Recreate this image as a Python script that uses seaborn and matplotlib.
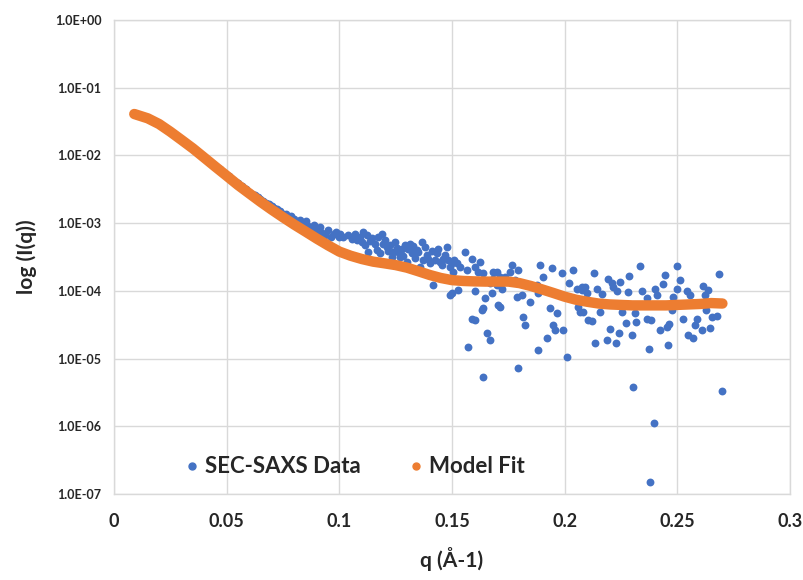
import matplotlib
matplotlib.use('Agg')
import matplotlib.pyplot as plt
from matplotlib.lines import Line2D
import seaborn as sns
import pandas as pd

# SEC-SAXS data points (q in 1/A, intensity)
q_data = [
    # low q, mostly hidden under the fit
    0.0090, 0.0110, 0.0130, 0.0150, 0.0170, 0.0190, 0.0210, 0.0230, 0.0250,
    0.0270, 0.0290, 0.0310, 0.0330, 0.0350, 0.0370, 0.0390, 0.0410, 0.0430,
    0.0450, 0.0470, 0.0490, 0.0510, 0.0530, 0.0550, 0.0570, 0.0585,
    # 0.06 - 0.10
    0.0600, 0.0612, 0.0625, 0.0637, 0.0650, 0.0662, 0.0675, 0.0687, 0.0700,
    0.0712, 0.0725, 0.0737, 0.0750, 0.0762, 0.0775, 0.0787, 0.0800, 0.0812,
    0.0825, 0.0837, 0.0850, 0.0862, 0.0875, 0.0887, 0.0900, 0.0912, 0.0925,
    0.0937, 0.0950, 0.0962, 0.0975, 0.0987, 0.1000,
    # 0.10 - 0.15
    0.1018, 0.1040, 0.1070, 0.1077, 0.1092, 0.1107, 0.1114, 0.1121, 0.1129,
    0.1144, 0.1158, 0.1166, 0.1181, 0.1188, 0.1195, 0.1210, 0.1225, 0.1232,
    0.1240, 0.1255, 0.1269, 0.1292, 0.1299, 0.1314, 0.1321, 0.1343, 0.1358,
    0.1366, 0.1373, 0.1388, 0.1403, 0.1417, 0.1432, 0.1447, 0.1462, 0.1477,
    0.1491, 0.1491, 0.1499, 0.1521,
    0.1003, 0.1055, 0.1100, 0.1136, 0.1173, 0.1203, 0.1218, 0.1247, 0.1262,
    0.1277, 0.1284, 0.1306, 0.1329, 0.1336, 0.1351, 0.1380, 0.1395, 0.1410,
    0.1425, 0.1440, 0.1454, 0.1469, 0.1484,
    # 0.15 - 0.21
    0.1558, 0.1510, 0.1500, 0.1506, 0.1536, 0.1565, 0.1588, 0.1602, 0.1624,
    0.1617, 0.1639, 0.1684, 0.1699, 0.1713, 0.1735, 0.1765, 0.1758, 0.1795,
    0.1780, 0.1787, 0.1810, 0.1817, 0.1824, 0.1846, 0.1876, 0.1891, 0.1906,
    0.1883, 0.1920, 0.1943, 0.1935, 0.1965, 0.1950, 0.1957, 0.1987, 0.1994,
    0.2017, 0.2039, 0.2054, 0.2076, 0.2061, 0.2083, 0.2098, 0.1528, 0.1602,
    0.1647, 0.1676, 0.1699, 0.1721, 0.1684, 0.1669, 0.1639, 0.1632, 0.1588,
    0.1602, 0.1706, 0.1713, 0.1654, 0.1669, 0.1573, 0.1499, 0.1883, 0.1920,
    0.2009, 0.1795, 0.2105, 0.1638,
    # 0.21 - 0.27
    0.2130, 0.2091, 0.2076, 0.2142, 0.2165, 0.2194, 0.2209, 0.2216, 0.2246,
    0.2231, 0.2287, 0.2283, 0.2335, 0.2342, 0.2364, 0.2401, 0.2409, 0.2438,
    0.2446, 0.2498, 0.2512, 0.2498, 0.2482, 0.2542, 0.2557, 0.2616, 0.2638,
    0.2623, 0.2687, 0.2068, 0.2157, 0.2120, 0.2201, 0.2187, 0.2135, 0.2228,
    0.2243, 0.2253, 0.2312, 0.2273, 0.2317, 0.2298, 0.2364, 0.2383, 0.2372,
    0.2423, 0.2456, 0.2465, 0.2460, 0.2475, 0.2527, 0.2549, 0.2571, 0.2586,
    0.2579, 0.2608, 0.2645, 0.2628, 0.2653, 0.2678,
    0.2305, 0.2398, 0.2379, 0.2697,
]
i_data = [
    0.0415, 0.0400, 0.0380, 0.0358, 0.0335, 0.0308, 0.0282, 0.0255, 0.0228,
    0.0203, 0.0180, 0.0160, 0.0142, 0.0128, 0.0113, 0.0100, 0.0089, 0.0078,
    0.0070, 0.0062, 0.0055, 0.0049, 0.0044, 0.0039, 0.0035, 0.0032,
    2.9e-3, 2.7e-3, 2.6e-3, 2.4e-3, 2.3e-3, 2.15e-3, 2.0e-3, 1.9e-3, 1.8e-3,
    1.65e-3, 1.6e-3, 1.5e-3, 1.38e-3, 1.35e-3, 1.22e-3, 1.28e-3, 1.15e-3, 1.05e-3,
    1.12e-3, 9.8e-4, 1.07e-3, 9.0e-4, 8.4e-4, 9.5e-4, 7.8e-4, 8.8e-4, 7.2e-4,
    6.6e-4, 7.9e-4, 6.2e-4, 7.0e-4, 7.5e-4, 6.3e-4,
    6.3e-4, 6.7e-4, 7.0e-4, 5.6e-4, 6.3e-4, 7.5e-4, 4.7e-4, 6.7e-4, 3.8e-4,
    6.0e-4, 5.0e-4, 4.0e-4, 3.6e-4, 7.0e-4, 5.0e-4, 4.5e-4, 4.7e-4, 3.2e-4,
    3.8e-4, 4.3e-4, 3.2e-4, 4.7e-4, 2.7e-4, 5.0e-4, 3.6e-4, 4.0e-4, 2.27e-4,
    5.3e-4, 2.85e-4, 3.4e-4, 2.55e-4, 1.22e-4, 3.6e-4, 2.7e-4, 3.0e-4, 4.5e-4,
    2.27e-4, 8.7e-5, 2.7e-4, 2.55e-4,
    7.0e-4, 5.9e-4, 5.3e-4, 5.5e-4, 6.2e-4, 5.6e-4, 3.9e-4, 5.2e-4, 3.7e-4,
    4.1e-4, 3.3e-4, 4.2e-4, 4.6e-4, 3.1e-4, 3.8e-4, 4.4e-4, 3.0e-4, 3.9e-4,
    2.9e-4, 4.2e-4, 2.4e-4, 3.4e-4, 2.9e-4,
    3.8e-4, 2.85e-4, 2.55e-4, 1.92e-4, 2.27e-4, 2.03e-4, 3.0e-4, 2.27e-4, 2.7e-4,
    1.92e-4, 1.81e-4, 1.92e-4, 1.92e-4, 1.62e-4, 1.62e-4, 2.4e-4, 1.92e-4, 2.03e-4,
    1.44e-4, 8.2e-5, 8.7e-5, 4.15e-5, 3.1e-5, 6.9e-5, 1.22e-4, 2.4e-4, 1.62e-4,
    9.2e-5, 9.8e-5, 2.15e-4, 5.5e-5, 4.65e-5, 3.1e-5, 2.64e-5, 1.81e-4, 2.64e-5,
    1.29e-4, 2.03e-4, 1.08e-4, 1.15e-4, 5.8e-5, 4.9e-5, 9.2e-5, 1.03e-4, 9.8e-5,
    7.8e-5, 9.2e-5, 1.22e-4, 1.08e-4, 1.5e-4, 1.29e-4, 5.5e-5, 5.2e-5, 3.9e-5,
    3.7e-5, 6.2e-5, 5.8e-5, 2.35e-5, 1.88e-5, 1.5e-5, 9.2e-5, 1.34e-5, 2.0e-5,
    1.06e-5, 7.2e-6, 3.7e-5, 5.3e-6,
    1.85e-4, 1.15e-4, 1.03e-4, 1.05e-4, 9.0e-5, 1.48e-4, 1.29e-4, 1.15e-4, 1.37e-4,
    9.8e-5, 1.66e-4, 9.5e-5, 2.3e-4, 1.0e-4, 7.8e-5, 1.05e-4, 8.7e-5, 1.27e-4,
    1.7e-4, 2.3e-4, 1.44e-4, 1.05e-4, 8.2e-5, 9.8e-5, 8.7e-5, 1.17e-4, 1.03e-4,
    8.7e-5, 1.77e-4, 4.9e-5, 4.9e-5, 3.6e-5, 2.7e-5, 1.9e-5, 1.7e-5, 1.7e-5,
    2.35e-5, 4.9e-5, 4.75e-5, 3.3e-5, 3.5e-5, 2.2e-5, 3.8e-5, 3.7e-5, 1.4e-5,
    2.6e-5, 2.95e-5, 3.2e-5, 1.6e-5, 5.2e-5, 3.9e-5, 2.2e-5, 2.0e-5, 3.9e-5,
    3.1e-5, 2.64e-5, 2.85e-5, 5.2e-5, 4.15e-5, 4.2e-5,
    3.8e-6, 1.1e-6, 1.5e-7, 3.3e-6,
]

# model fit curve
q_fit = [
    0.009, 0.015, 0.020, 0.025, 0.030, 0.035, 0.040, 0.045, 0.050, 0.055,
    0.060, 0.065, 0.070, 0.075, 0.080, 0.085, 0.090, 0.095, 0.100, 0.105,
    0.110, 0.115, 0.120, 0.125, 0.130, 0.135, 0.140, 0.145, 0.150, 0.155,
    0.160, 0.165, 0.170, 0.175, 0.180, 0.185, 0.190, 0.195, 0.200, 0.205,
    0.210, 0.215, 0.220, 0.225, 0.230, 0.235, 0.240, 0.245, 0.250, 0.255,
    0.260, 0.265, 0.270,
]
i_fit = [
    0.0409, 0.0353, 0.0291, 0.0224, 0.0169, 0.0127, 0.0093, 0.0068, 0.0050, 0.00366,
    0.00275, 0.00207, 0.00158, 0.00122, 9.5e-4, 7.5e-4, 5.9e-4, 4.7e-4, 3.8e-4, 3.3e-4,
    2.95e-4, 2.7e-4, 2.55e-4, 2.4e-4, 2.2e-4, 1.95e-4, 1.72e-4, 1.55e-4, 1.44e-4, 1.40e-4,
    1.38e-4, 1.37e-4, 1.37e-4, 1.37e-4, 1.30e-4, 1.18e-4, 1.05e-4, 9.3e-5, 8.2e-5, 7.4e-5,
    6.9e-5, 6.5e-5, 6.3e-5, 6.2e-5, 6.1e-5, 6.1e-5, 6.1e-5, 6.1e-5, 6.2e-5, 6.3e-5,
    6.4e-5, 6.6e-5, 6.5e-5,
]

x_ticks = [0, 0.05, 0.1, 0.15, 0.2, 0.25, 0.3]
y_exps = [-7, -6, -5, -4, -3, -2, -1, 0]

blue = '#4472C4'
orange = '#ED7D31'
grid_c = '#D9D9D9'

sns.set_theme(style='whitegrid')
plt.rcParams['font.family'] = ['Lato', 'DejaVu Sans']
plt.rcParams['font.weight'] = 'bold'

data = pd.DataFrame({'q': q_data, 'I': i_data})
fit = pd.DataFrame({'q': q_fit, 'I': i_fit})

fig = plt.figure(figsize=(8.04, 5.80), dpi=100)
ax = fig.add_axes([0.1418, 0.1483, 0.8408, 0.8172])

sns.scatterplot(data=data, x='q', y='I', ax=ax, color=blue, s=32,
                linewidth=0, zorder=3)
sns.lineplot(data=fit, x='q', y='I', ax=ax, color=orange, lw=7.5,
             solid_capstyle='round', zorder=4)

ax.set_yscale('log')
ax.set_xlim(0, 0.3)
ax.set_ylim(1e-7, 1)
ax.set_xticks(x_ticks)
ax.set_xticklabels([f'{v:g}' for v in x_ticks], fontsize=13, fontweight='bold')
ax.set_yticks([10.0 ** e for e in y_exps])
ax.set_yticklabels([f'1.0E{e:+03d}' for e in y_exps], fontsize=9, fontweight='bold')
ax.minorticks_off()
ax.tick_params(axis='x', pad=14, length=0)
ax.tick_params(axis='y', pad=9, length=0)
ax.grid(True, color=grid_c, lw=1)
for s in ax.spines.values():
    s.set_color(grid_c)
    s.set_linewidth(1)

ax.set_xlabel('q (Å-1)', fontsize=15, fontweight='bold', labelpad=12)
ax.set_ylabel('log (I(q))', fontsize=15, fontweight='bold', labelpad=13)

handles = [
    Line2D([], [], ls='', marker='o', color=blue, markersize=5),
    Line2D([], [], ls='', marker='o', color=orange, markersize=5),
]
ax.legend(handles, ['SEC-SAXS Data', 'Model Fit'], ncol=2, frameon=False,
          loc='center left', bbox_to_anchor=(0.0725, 0.057),
          prop={'weight': 'bold', 'size': 16}, handletextpad=0.2,
          columnspacing=2.07, handlelength=0.8)

fig.savefig('out.png', dpi=100)
